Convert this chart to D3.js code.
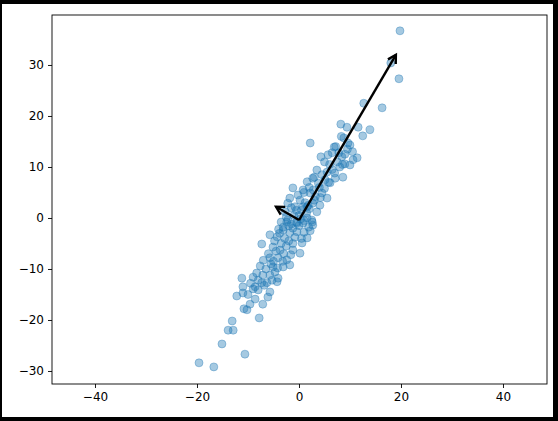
<!DOCTYPE html>
<html>
<head>
<meta charset="utf-8">
<script src="https://cdn.jsdelivr.net/npm/d3@7"></script>
<style>
  body { margin: 0; background: #000; }
  svg { display: block; }
</style>
</head>
<body>
<div id="my_dataviz"></div>
<script>
// scatter points [x, y]
var points = [
  [19.8, 36.7], [18.0, 30.4], [19.6, 27.3], [16.3, 21.6], [12.7, 22.5],
  [8.2, 18.4], [9.4, 17.8], [11.6, 17.8], [13.9, 17.3], [12.5, 16.1],
  [8.8, 15.7], [2.2, 14.7], [9.6, 14.7], [6.9, 13.9], [10.0, 14.3],
  [4.3, 12.0], [5.7, 12.4], [10.6, 11.4], [11.4, 11.8], [9.0, 10.6],
  [10.0, 10.4], [8.4, 12.0], [8.6, 8.0], [7.1, 7.8], [3.5, 9.4],
  [2.7, 7.8], [5.1, 7.5], [6.1, 6.9], [1.6, 7.1], [0.8, 5.5],
  [2.2, 4.9], [4.5, 4.9], [5.5, 3.9], [-1.2, 5.9], [0.2, 3.5],
  [-1.8, 3.9], [1.6, 2.2], [2.7, 2.9], [4.1, 2.5], [-2.7, 1.2],
  [-2.2, -0.4], [-0.4, -1.0], [1.6, 0.0], [2.5, -0.4], [2.7, -1.4],
  [-3.1, -1.8], [-1.2, -2.0], [-2.2, 2.9], [-0.8, 2.2], [0.8, -1.0],
  [-2.4, -0.8], [-3.1, -2.4], [-1.8, -2.9], [-0.4, -2.7], [1.6, -3.9],
  [0.6, -4.9], [-1.2, -6.3], [0.2, -6.9], [-4.3, -3.7], [-5.7, -3.3],
  [-7.3, -5.1], [-5.1, -5.7], [-3.7, -6.3], [-4.1, -7.8], [-5.7, -7.8],
  [-2.4, -8.2], [-5.1, -9.6], [-3.1, -9.6], [-1.8, -9.2], [-5.7, -11.2],
  [-4.1, -11.8], [-7.1, -11.2], [-8.0, -12.2], [-8.6, -13.5], [-6.3, -12.7],
  [-4.3, -12.5], [-11.2, -11.8], [-11.0, -13.5], [-7.6, -9.4], [-4.7, -10.6],
  [-9.0, -11.6], [-7.3, -12.7], [-5.3, -12.2], [-9.0, -13.9], [-8.0, -14.1],
  [-5.7, -14.5], [-11.0, -14.7], [-12.2, -15.3], [-6.1, -15.5], [-8.6, -15.9],
  [-9.6, -16.9], [-10.8, -17.8], [-10.2, -18.0], [-7.1, -16.9], [-7.8, -19.6],
  [-13.1, -20.2], [-13.9, -22.0], [-12.9, -22.0], [-15.1, -24.7], [-10.6, -26.7],
  [-19.6, -28.4], [-16.7, -29.2],
  [-1.0, 0.5], [0.5, 1.5], [1.0, -0.5], [-0.5, -0.8], [2.0, 1.8],
  [3.2, 4.2], [1.2, 3.0], [-1.5, -1.2], [-2.8, -4.0], [-3.5, -5.0],
  [-2.0, -4.5], [-4.5, -6.5], [-3.0, -7.0], [-5.0, -8.5], [-6.5, -10.0],
  [-4.2, -9.8], [-6.0, -7.0], [0.0, -1.5], [1.5, 1.0], [2.8, 5.5],
  [4.0, 6.0], [3.0, 3.5], [5.0, 5.8], [4.5, 8.5], [6.5, 9.5],
  [7.5, 11.0], [6.0, 10.5], [7.8, 12.8], [5.5, 9.0], [8.0, 10.0],
  [9.5, 13.5], [6.5, 12.8], [3.8, 6.8], [2.0, 6.0], [1.0, 5.0],
  [-0.5, 1.5], [-1.5, 2.0], [0.0, 0.5], [0.8, 2.2], [2.2, -2.5],
  [1.0, -2.8], [-0.8, -3.8], [-2.5, -5.5], [-3.8, -3.0], [-1.2, -5.0],
  [-3.2, -8.5], [-5.5, -9.0], [-7.0, -8.3], [-4.8, -4.5], [-2.0, -1.5],
  [0.3, -0.2], [1.8, 2.5], [3.5, 1.2], [4.2, 4.0], [5.8, 7.0],
  [7.0, 8.8], [8.5, 10.5], [9.0, 12.5], [10.5, 13.0], [7.2, 14.0],
  [8.3, 16.0], [5.0, 11.0], [3.0, 8.0], [-0.2, 4.5], [-2.5, 0.2],
  [-3.5, -0.8], [-4.0, -2.2], [0.5, -4.0], [-1.6, -7.2], [2.6, -0.8],
  [1.9, -1.8], [-6.8, -13.2], [-9.5, -12.8], [-8.3, -10.8], [-10.0, -15.0]
];

// principal axis arrows: start and end
var arrowStart = [0.0, -0.4];
var arrowEnds = [[19.0, 32.0], [-4.5, 2.2]];

var xTicks = [-40, -20, 0, 20, 40];
var yTicks = [-30, -20, -10, 0, 10, 20, 30];

var W = 558, H = 421;
var margin = {top: 15, right: 11, bottom: 37, left: 52},
    width = W - margin.left - margin.right,
    height = H - margin.top - margin.bottom;

var svgRoot = d3.select("#my_dataviz")
  .append("svg")
    .attr("width", W)
    .attr("height", H);

// white figure inside black frame
svgRoot.append("rect")
  .attr("x", 2).attr("y", 4)
  .attr("width", 551).attr("height", 413)
  .attr("fill", "white");

var svg = svgRoot.append("g")
  .attr("transform", "translate(" + margin.left + "," + margin.top + ")");

var x = d3.scaleLinear()
  .domain([-48.43, 48.63])
  .range([0, width]);

var y = d3.scaleLinear()
  .domain([-32.55, 39.8])
  .range([height, 0]);

var xAxis = svg.append("g")
  .attr("transform", "translate(0," + height + ")")
  .call(d3.axisBottom(x).tickValues(xTicks).tickSize(4).tickPadding(4));

var yAxis = svg.append("g")
  .call(d3.axisLeft(y).tickValues(yTicks).tickSize(4).tickPadding(4));

[xAxis, yAxis].forEach(function(a) {
  a.selectAll("text")
    .style("font-family", "DejaVu Sans")
    .style("font-size", "12px")
    .attr("fill", "black");
  a.selectAll("line").attr("stroke", "black").attr("stroke-width", 0.9);
  a.select(".domain").remove();
});

// points
svg.append("g")
  .selectAll("circle")
  .data(points)
  .enter()
  .append("circle")
    .attr("cx", function(d) { return x(d[0]); })
    .attr("cy", function(d) { return y(d[1]); })
    .attr("r", 4)
    .style("fill", "#1f77b4")
    .style("fill-opacity", 0.4)
    .style("stroke", "#1f77b4")
    .style("stroke-opacity", 0.4)
    .style("stroke-width", 0.9);

// arrows with open heads
arrowEnds.forEach(function(e) {
  var x0 = x(arrowStart[0]), y0 = y(arrowStart[1]);
  var x1 = x(e[0]), y1 = y(e[1]);
  var ang = Math.atan2(y1 - y0, x1 - x0);
  var hl = 8, hw = 4.5;
  var bx = x1 - hl * Math.cos(ang), by = y1 - hl * Math.sin(ang);
  var px = -Math.sin(ang) * hw, py = Math.cos(ang) * hw;
  svg.append("line")
    .attr("x1", x0).attr("y1", y0)
    .attr("x2", x1).attr("y2", y1)
    .attr("stroke", "black")
    .attr("stroke-width", 2.4);
  svg.append("path")
    .attr("d", d3.line()([[bx + px, by + py], [x1, y1], [bx - px, by - py]]))
    .attr("fill", "none")
    .attr("stroke", "black")
    .attr("stroke-width", 2.4)
    .attr("stroke-linejoin", "miter");
});

// axes frame
svg.append("rect")
  .attr("width", width)
  .attr("height", height)
  .attr("fill", "none")
  .attr("stroke", "black")
  .attr("stroke-width", 0.9);
</script>
</body>
</html>
